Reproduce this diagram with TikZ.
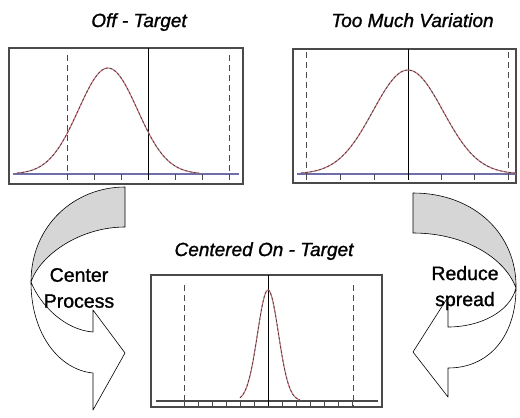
\documentclass[tikz,border=0pt]{standalone}
\usepackage{fontspec}
\setmainfont{Liberation Sans}
\newfontfamily\heavyfont[FakeBold=1.2]{Liberation Sans}
\usetikzlibrary{positioning}
\definecolor{Curve}{HTML}{C8707A}
\definecolor{Axis}{HTML}{6E6EAA}
\definecolor{Frame}{HTML}{4A4A4A}
\definecolor{Shade}{HTML}{D6D6D6}

\begin{document}
\begin{tikzpicture}[x=1pt,y=-1pt,
    plotbox/.style={draw=Frame,line width=1.1pt,inner sep=0pt},
    ttl/.style={font=\fontsize{19}{22}\heavyfont\itshape,anchor=base},
    lbl/.style={font=\fontsize{19.5}{26}\heavyfont,align=center},
    spec/.style={draw=Frame,line width=0.7pt,dash pattern=on 6pt off 4pt},
    target/.style={draw=black,line width=0.9pt},
    axis/.style={draw=Axis,line width=1.3pt},
    tick/.style={draw=Frame,line width=0.6pt},
    bell/.style={draw=black!75,line width=0.7pt,dash pattern=on 2.5pt off 2pt,
      preaction={draw=Curve,line width=1.1pt,solid}},
    band/.style={draw=black,line width=0.6pt,line join=round}
  ]
    \useasboundingbox (0,0) rectangle (520,418);
    % off target
    \node[plotbox,minimum width=234pt,minimum height=136pt] (offbox) at (126,116) {};
    \node[ttl] (offttl) at (139,27) {Off - Target};
    \draw[axis] (13,174) -- (239,174);
    \foreach \x in {67,94,121,148,175,202,229}
      \draw[tick] (\x,174) -- (\x,180);
    \foreach \x in {67,229}
      \draw[spec] (\x,55) -- (\x,180);
    \draw[target] (148,48) -- (148,180);
    \draw[bell] plot[domain=17:199,samples=80,smooth] (\x,{174-106*exp(-((\x-108)^2)/1740)});
    % too much variation
    \node[plotbox,minimum width=223pt,minimum height=134pt] (varbox) at (404.5,116) {};
    \node[ttl] (varttl) at (412.5,27) {Too Much Variation};
    \draw[axis] (297,174) -- (516,174);
    \foreach \x in {306,340,374,408,441,474,508}
      \draw[tick] (\x,174) -- (\x,180);
    \foreach \x in {306,508}
      \draw[spec] (\x,52) -- (\x,180);
    \draw[target] (408,49) -- (408,180);
    \draw[bell] plot[domain=301:515,samples=80,smooth] (\x,{174-104*exp(-((\x-408)^2)/2450)});
    % centered
    \node[plotbox,minimum width=231pt,minimum height=132pt] (ctrbox) at (266.5,341) {};
    \node[ttl] (ctrttl) at (264,256) {Centered On - Target};
    \draw[axis,draw=Frame] (156,401) -- (378,401);
    \foreach \k in {0,...,12}
      \draw[tick] ({184+14*\k},401) -- ({184+14*\k},406);
    \foreach \x in {184,353}
      \draw[spec] (\x,285) -- (\x,406);
    \draw[target] (268,275) -- (268,406);
    \draw[bell] plot[domain=240:300,samples=60,smooth] (\x,{401-111*exp(-((\x-268)^2)/220)});
    % left bent arrow
    \filldraw[band,fill=white] (31,282) .. controls (31,335) and (60,370) .. (93,373)
      -- (93,410) -- (125,353) -- (93,310) -- (93,332)
      .. controls (65,330) and (40,305) .. (31,282) -- cycle;
    \filldraw[band,fill=Shade] (125,187) -- (125,227)
      .. controls (80,227) and (40,255) .. (31,282)
      .. controls (31,225) and (75,187) .. (125,187) -- cycle;
    \node[lbl] (center) at (79,288) {Center\\Process};
    % right bent arrow
    \filldraw[band,fill=white] (516,288) .. controls (516,335) and (490,368) .. (448,368)
      -- (448,397) -- (413,352) -- (448,297) -- (448,327)
      .. controls (480,327) and (510,312) .. (516,288) -- cycle;
    \filldraw[band,fill=Shade] (413,193) -- (413,233)
      .. controls (465,233) and (505,258) .. (516,288)
      .. controls (517,235) and (475,193) .. (413,193) -- cycle;
    \node[lbl] (reduce) at (465,288) {Reduce\\spread};
  \end{tikzpicture}
\end{document}
